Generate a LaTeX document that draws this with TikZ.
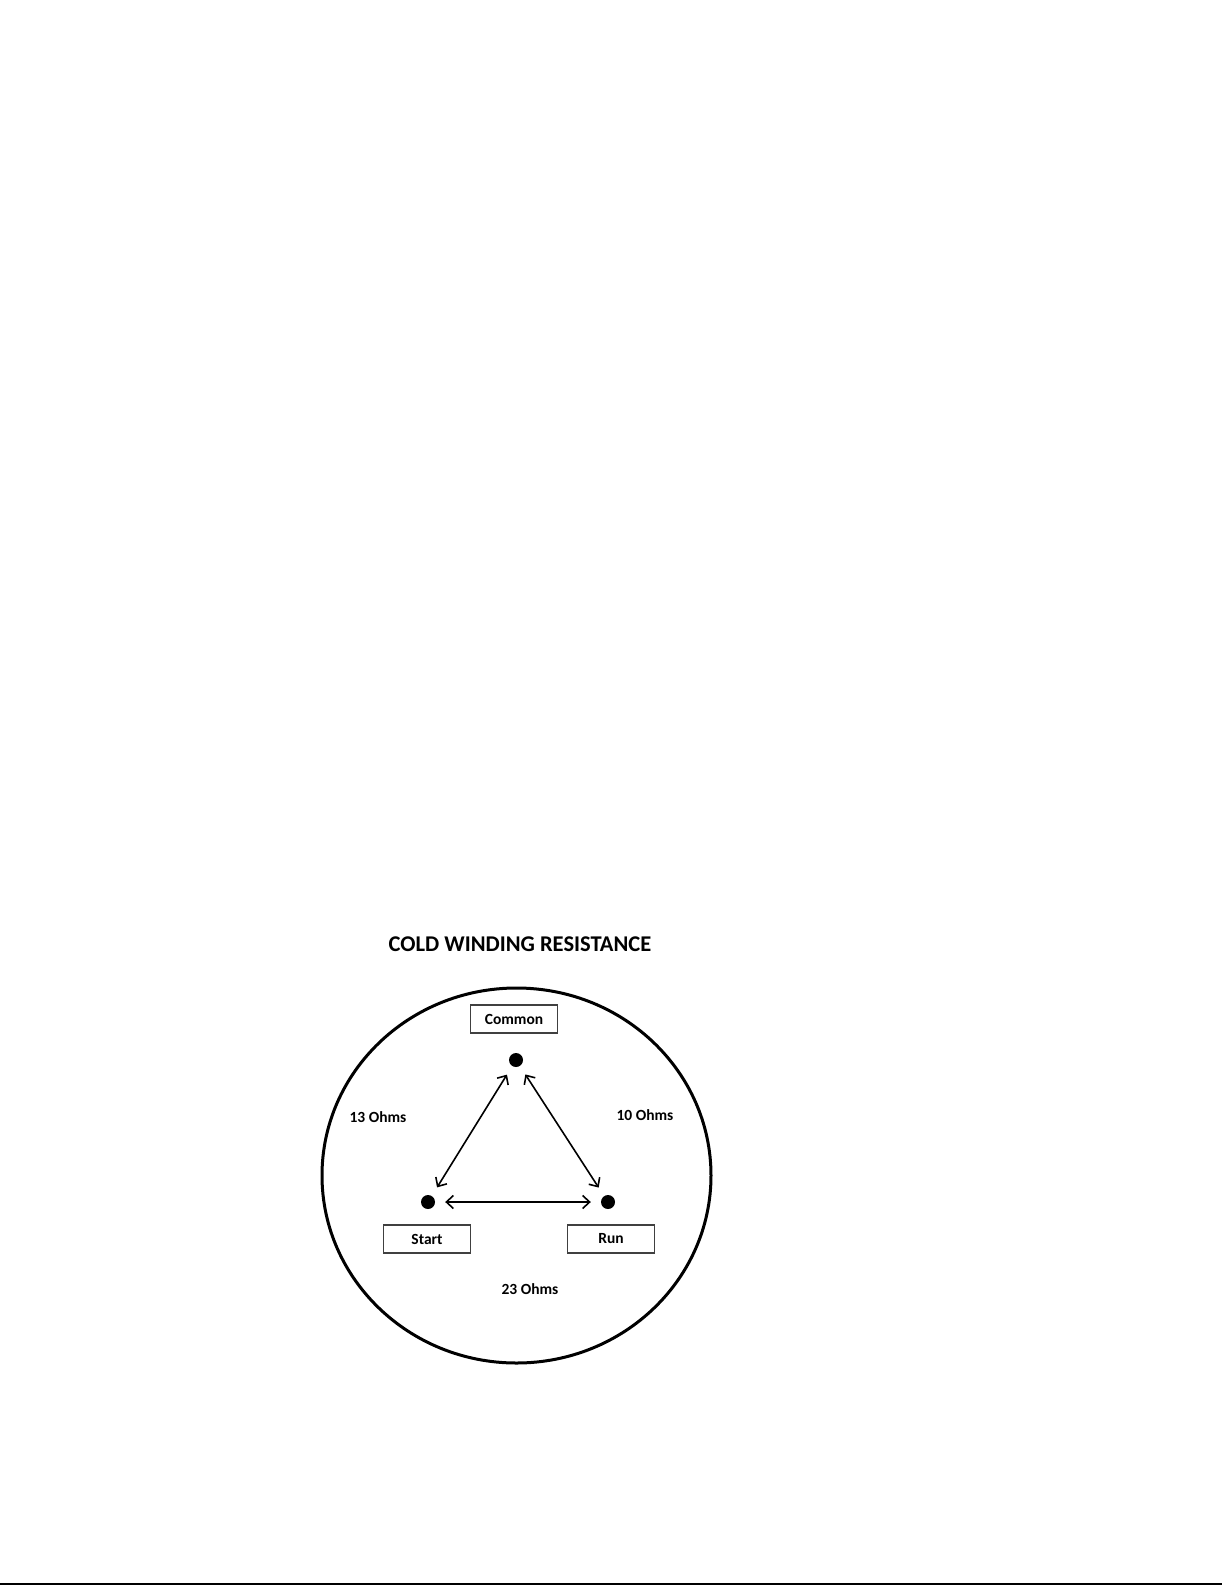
\documentclass[tikz,border=0pt]{standalone}
\usepackage{fontspec}
\setmainfont{Carlito}
\usetikzlibrary{arrows.meta}
\begin{document}
\begin{tikzpicture}[x=1pt,y=-1pt]
\tikzstyle{every node}+=[inner sep=0pt,font=\bfseries\fontsize{15.5}{18}\selectfont]
\tikzstyle{termbox}=[draw=black!75,line width=1.3pt,minimum width=87pt,minimum height=28pt]
\tikzstyle{terminal}=[circle,fill=black,minimum size=14pt]
\tikzstyle{ohms}=[{Straight Barb[length=7pt,width=13pt]}-{Straight Barb[length=7pt,width=13pt]},line width=1.6pt,shorten <=10pt,shorten >=10pt]
\useasboundingbox (0,0) rectangle (1225,1585);
\draw (520,944) node [font=\bfseries\fontsize{22.5}{26}\selectfont] (title) {COLD WINDING RESISTANCE};
\draw [black,line width=3pt] (516.5,1175.5) ellipse [x radius=194.5pt,y radius=187.5pt];
\node [termbox] (commonbox) at (514,1019) {Common};
\node [terminal] (common) at (516,1060) {};
\node [terminal] (start) at (428,1202) {};
\node [terminal] (run) at (608,1202) {};
\node [termbox] (startbox) at (427,1239) {Start};
\node [termbox] (runbox) at (611,1239) {Run};
\draw [ohms] (common) -- (start);
\draw [ohms] (common) -- (run);
\draw [ohms] (start) -- (run);
\draw (378,1117) node (cs) {13 Ohms};
\draw (645,1115) node (cr) {10 Ohms};
\draw (530,1289) node (sr) {23 Ohms};
\draw [black,line width=2pt] (0,1584) -- (1222,1584);
\end{tikzpicture}
\end{document}
